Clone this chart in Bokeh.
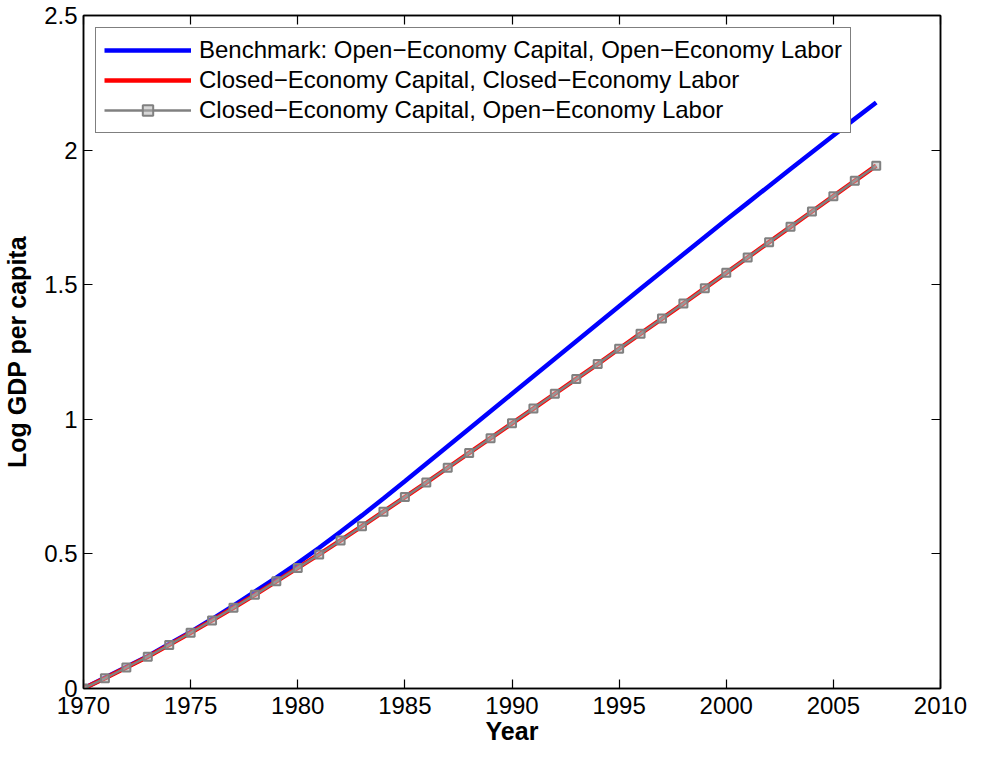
from bokeh.plotting import figure
from bokeh.models import Range1d, LinearAxis, FixedTicker, Legend, LegendItem
from bokeh.embed import file_html
from bokeh.resources import INLINE

years = list(range(1970, 2008))
benchmark = [0.0, 0.04, 0.08, 0.12, 0.165, 0.21, 0.258, 0.308, 0.36, 0.412,
             0.466, 0.523, 0.582, 0.643, 0.706, 0.77, 0.835, 0.90, 0.965, 1.03,
             1.095, 1.16, 1.225, 1.29, 1.355, 1.42, 1.485, 1.549, 1.613, 1.677,
             1.741, 1.804, 1.867, 1.93, 1.992, 2.054, 2.116, 2.177]
closed_closed = [0.0, 0.038, 0.078, 0.118, 0.162, 0.207, 0.253, 0.30, 0.348, 0.398,
                 0.448, 0.498, 0.55, 0.603, 0.657, 0.711, 0.765, 0.82, 0.875, 0.93,
                 0.985, 1.04, 1.095, 1.15, 1.205, 1.262, 1.318, 1.374, 1.43, 1.487,
                 1.544, 1.601, 1.658, 1.715, 1.772, 1.829, 1.886, 1.942]
closed_open = list(closed_closed)

x_ticks = [1970, 1975, 1980, 1985, 1990, 1995, 2000, 2005, 2010]
y_ticks = [0, 0.5, 1, 1.5, 2, 2.5]
y_tick_labels = ["0", "0.5", "1", "1.5", "2", "2.5"]

FONT = "Liberation Sans"

p = figure(width=967, height=747, output_backend="svg", toolbar_location=None,
           x_range=Range1d(1970, 2010), y_range=Range1d(0, 2.5),
           min_border_left=80, min_border_right=27, min_border_top=15, min_border_bottom=59)
p.xgrid.visible = False
p.ygrid.visible = False
p.outline_line_color = "black"
p.outline_line_width = 1.5
p.background_fill_color = "white"
p.border_fill_color = "white"

def style_axis(ax, labels=True):
    ax.axis_line_color = "black"
    ax.axis_line_width = 1.5
    ax.major_tick_in = 9
    ax.major_tick_out = 0
    ax.minor_tick_in = 0
    ax.minor_tick_out = 0
    ax.major_tick_line_color = "black"
    ax.major_tick_line_width = 1.2
    ax.major_label_text_font = FONT
    ax.major_label_text_font_size = "24px"
    ax.major_label_text_color = "black"
    ax.major_label_standoff = 4
    ax.axis_label_text_font = FONT
    ax.axis_label_text_font_size = "25px"
    ax.axis_label_text_font_style = "bold"
    ax.axis_label_text_color = "black"
    if not labels:
        ax.major_label_text_font_size = "0px"
        ax.major_label_text_alpha = 0

p.xaxis.ticker = FixedTicker(ticks=x_ticks)
p.yaxis.ticker = FixedTicker(ticks=y_ticks)
p.yaxis.major_label_overrides = {t: l for t, l in zip(y_ticks, y_tick_labels)}
p.xaxis.axis_label = "Year"
p.yaxis.axis_label = "Log GDP per capita"
style_axis(p.xaxis[0])
style_axis(p.yaxis[0])
p.xaxis.major_label_standoff = 8
p.yaxis.major_label_standoff = 6
p.xaxis.axis_label_standoff = 0
p.yaxis.axis_label_standoff = 10

top = LinearAxis(ticker=FixedTicker(ticks=x_ticks))
style_axis(top, labels=False)
p.add_layout(top, "above")
right = LinearAxis(ticker=FixedTicker(ticks=y_ticks))
style_axis(right, labels=False)
p.add_layout(right, "right")

r1 = p.line(years, benchmark, line_color="#0000ff", line_width=4.5)
r2 = p.line(years, closed_closed, line_color="#ff0000", line_width=4.5)
r3 = p.line(years, closed_open, line_color="#808080", line_width=2.5)
r4 = p.scatter(years, closed_open, marker="square", size=8, line_color="#808080",
               line_width=2, fill_color="#b0b0b0", fill_alpha=0.5)

legend = Legend(items=[
    LegendItem(label="Benchmark: Open\u2212Economy Capital, Open\u2212Economy Labor", renderers=[r1]),
    LegendItem(label="Closed\u2212Economy Capital, Closed\u2212Economy Labor", renderers=[r2]),
    LegendItem(label="Closed\u2212Economy Capital, Open\u2212Economy Labor", renderers=[r3, r4]),
], location="top_left")
legend.margin = 12
legend.padding = 8
legend.spacing = 2
legend.label_text_font = FONT
legend.label_text_font_size = "24px"
legend.label_text_color = "black"
legend.label_height = 26
legend.glyph_width = 87
legend.glyph_height = 26
legend.label_standoff = 8
legend.border_line_color = "black"
legend.border_line_width = 1.5
legend.background_fill_alpha = 1
p.add_layout(legend)

open("out.html", "w").write(file_html(p, INLINE))
